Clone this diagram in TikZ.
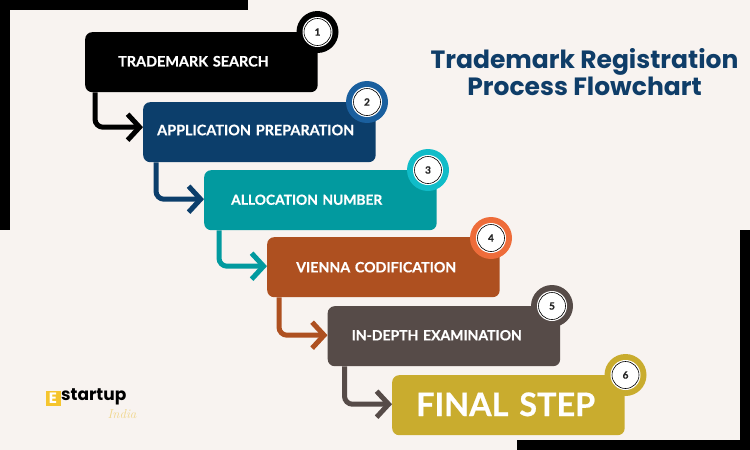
\documentclass[tikz,border=0pt]{standalone}
\usepackage{fontspec}
\setmainfont{Poppins}
\newfontfamily\lblfont[BoldFeatures={FakeBold=0.6}]{Lato}
\newfontfamily\logoscript{Latin Modern Roman}
\usetikzlibrary{arrows.meta,calc}
\definecolor{pagebg}{HTML}{F8F3F0}
\definecolor{titleblue}{HTML}{0F3D68}
\definecolor{boxB}{HTML}{0C3E6B}\definecolor{ringB}{HTML}{1A5F9E}
\definecolor{boxC}{HTML}{029A9F}\definecolor{ringC}{HTML}{10BCC8}
\definecolor{boxD}{HTML}{AE5020}\definecolor{ringD}{HTML}{EE6C3A}
\definecolor{boxE}{HTML}{564B48}
\definecolor{boxF}{HTML}{C9AC2E}
\definecolor{logoY}{HTML}{F5C52E}\definecolor{logoP}{HTML}{F0D68A}
\newcommand{\boxtxt}[3]{\hspace*{#1pt}\raisebox{#2pt}{#3}}
\newcommand{\lblsize}[1]{\lblfont\bfseries\fontsize{#1}{16}\selectfont}
\tikzset{
  stepbox/.style={rectangle,rounded corners=7pt,anchor=north west,minimum width=232.5pt,minimum height=60pt,
    text width=232.5pt,inner xsep=0pt,inner ysep=0pt,align=left,text=white,font=\lblsize{14.4}},
  ring/.style={circle,minimum size=42pt,inner sep=0pt},
  badge/.style={circle,fill=white,draw=#1,line width=.6pt,minimum size=27pt,inner sep=0pt,text=black!85,
    font=\lblfont\bfseries\fontsize{10}{12}\selectfont},
  link/.style={line width=5pt,rounded corners=8pt,-{Straight Barb[length=12pt,width=26pt,line width=5pt]}},
  edgebar/.style={fill=black,draw=none},
}
\begin{document}
\begin{tikzpicture}[x=1pt,y=-1pt]
\fill[pagebg] (0,0) rectangle (750,450);
\useasboundingbox (0,0) rectangle (750,450);
\fill[edgebar] (0,0) rectangle (248,10);
\fill[edgebar] (0,0) rectangle (10,230);
\fill[edgebar] (740,230) rectangle (750,450);
\fill[edgebar] (517,440) rectangle (750,450);

\coordinate (r1) at (317.5,32);
\coordinate (r2) at (367,102);
\coordinate (r3) at (428,170);
\coordinate (r4) at (491,238);
\coordinate (r5) at (552,306);
\coordinate (r6) at (625.5,375);

\node[stepbox,fill=black] (b1) at (85,32) {\boxtxt{33}{2}{TRADEMARK SEARCH}};
\node[stepbox,fill=boxB] (b2) at (143,102) {\boxtxt{14}{4.5}{APPLICATION PREPARATION}};
\node[stepbox,fill=boxC,font=\lblsize{13.8}] (b3) at (204,170) {\boxtxt{27}{1}{ALLOCATION NUMBER}};
\node[stepbox,fill=boxD,font=\lblsize{14.2}] (b4) at (267,237) {\boxtxt{29}{0}{VIENNA CODIFICATION}};
\node[stepbox,fill=boxE,font=\lblsize{14}] (b5) at (327.5,306) {\boxtxt{24}{2}{IN-DEPTH EXAMINATION}};
\node[stepbox,fill=boxF,font=\lblsize{32.4}] (b6) at (392,375) {\boxtxt{24}{2}{FINAL STEP}};

\foreach \r/\n/\c in {r1/1/black,r2/2/ringB,r3/3/ringC,r4/4/ringD,r5/5/boxE,r6/6/boxF}{
  \node[ring,fill=\c] at (\r) {};
  \node[circle,fill=white,minimum size=30pt,inner sep=0pt] at (\r) {};
  \node[badge=black] (n\n) at (\r) {\n};
}

\draw[link,black] ($(b1.south west)+(10,0)$) |- ($(b2.west)+(0,-5)$);
\draw[link,boxB] ($(b2.south west)+(13,0)$) |- ($(b3.west)+(0,-1)$);
\draw[link,boxC] ($(b3.south west)+(15,0)$) |- ($(b4.west)+(0,-1)$);
\draw[link,boxD] ($(b4.south west)+(12,0)$) |- ($(b5.west)+(0,-1)$);
\draw[link,boxE] ($(b5.south west)+(17,0)$) |- ($(b6.west)+(0,-1)$);

\node[text=titleblue,font=\fontsize{25}{27.2}\selectfont\bfseries,align=center] (title) at (584.5,72)
  {Trademark Registration\\Process Flowchart};

\node[fill=logoY,minimum size=15pt,inner sep=0pt,text=white,font=\bfseries\fontsize{15}{15}\selectfont] (logoE) at (53,398.5) {E};
\node[anchor=west,inner sep=0pt,text=black,font=\fontsize{17}{17}\selectfont\bfseries] (logoS) at (61,396.5) {startup};
\node[text=logoP,inner sep=0pt,font=\logoscript\itshape\fontsize{13}{13}\selectfont] (logoI) at (122,414) {India};
\end{tikzpicture}
\end{document}
